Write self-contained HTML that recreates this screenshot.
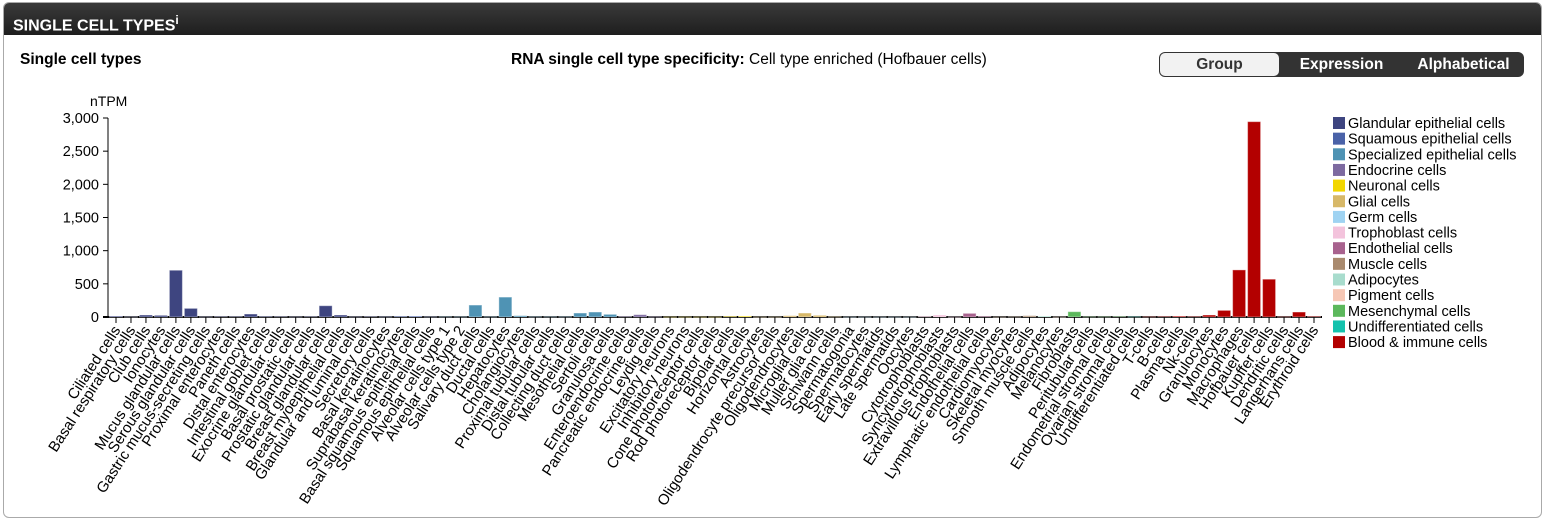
<!DOCTYPE html>
<html><head><meta charset="utf-8"><style>
html,body{margin:0;padding:0;background:#fff;width:1547px;height:523px;overflow:hidden;font-family:"Liberation Sans",sans-serif}
#panel{position:absolute;left:3px;top:2px;width:1537px;height:514px;border:1px solid #aaa;border-radius:6px;overflow:hidden}
#hdr{position:absolute;left:0;top:0;width:100%;height:32px;background:linear-gradient(#3a3a3a,#1e1e1e);color:#fff;font-weight:bold;font-size:16px;line-height:34px;padding-left:9px;box-sizing:border-box}
#hdr sup{font-size:12px}
.t{position:absolute;font-size:15.5px;color:#000}
#btns{position:absolute;left:1159px;top:52px;width:365px;height:25px;background:#333;border-radius:6px}
.b{position:absolute;top:0;height:25px;line-height:25px;font-weight:bold;font-size:15.5px;color:#fff;text-align:center}
svg{position:absolute;left:0;top:0}
</style></head><body>
<div id="panel">
<div id="hdr">SINGLE CELL TYPES<sup>i</sup></div>
</div>
<div class="t" style="left:20px;top:51px;font-weight:bold">Single cell types</div>
<div class="t" style="left:511px;top:51px"><b>RNA single cell type specificity:</b> Cell type enriched (Hofbauer cells)</div>
<div id="btns">
<div class="b" style="left:1px;top:1px;height:23px;line-height:23px;width:119px;background:#f2f2f2;color:#333;border-radius:5px">Group</div>
<div class="b" style="left:125px;width:115px">Expression</div>
<div class="b" style="left:246px;width:117px">Alphabetical</div>
</div>
<svg id="chart" width="1547" height="523"></svg>
<script>
const categories=["Ciliated cells","Basal respiratory cells","Club cells","Ionocytes","Mucus glandular cells","Serous glandular cells","Gastric mucus-secreting cells","Proximal enterocytes","Paneth cells","Distal enterocytes","Intestinal goblet cells","Exocrine glandular cells","Basal prostatic cells","Prostatic glandular cells","Breast glandular cells","Breast myoepithelial cells","Glandular and luminal cells","Secretory cells","Basal keratinocytes","Suprabasal keratinocytes","Basal squamous epithelial cells","Squamous epithelial cells","Alveolar cells type 1","Alveolar cells type 2","Salivary duct cells","Ductal cells","Hepatocytes","Cholangiocytes","Proximal tubular cells","Distal tubular cells","Collecting duct cells","Mesothelial cells","Sertoli cells","Granulosa cells","Enteroendocrine cells","Pancreatic endocrine cells","Leydig cells","Excitatory neurons","Inhibitory neurons","Cone photoreceptor cells","Rod photoreceptor cells","Bipolar cells","Horizontal cells","Astrocytes","Oligodendrocyte precursor cells","Oligodendrocytes","Microglial cells","Muller glia cells","Schwann cells","Spermatogonia","Spermatocytes","Early spermatids","Late spermatids","Oocytes","Cytotrophoblasts","Syncytiotrophoblasts","Extravillous trophoblasts","Endothelial cells","Lymphatic endothelial cells","Cardiomyocytes","Skeletal myocytes","Smooth muscle cells","Adipocytes","Melanocytes","Fibroblasts","Peritubular cells","Endometrial stromal cells","Ovarian stromal cells","Undifferentiated cells","T-cells","B-cells","Plasma cells","Nk-cells","Granulocytes","Monocytes","Macrophages","Hofbauer cells","Kupffer cells","Dendritic cells","Langerhans cells","Erythroid cells"];
const values=[15,5,30,25,705,130,5,8,8,45,10,8,5,8,170,30,5,8,5,12,15,5,5,5,180,5,300,20,5,5,5,60,75,40,8,35,5,3,3,3,3,10,15,3,3,20,60,25,5,3,3,3,3,3,10,30,3,55,10,3,5,20,15,3,80,5,5,8,5,5,8,15,8,30,100,710,2945,570,5,75,10];
const groupIdx=[0,0,0,0,0,0,0,0,0,0,0,0,0,0,0,0,0,0,1,1,1,1,2,2,2,2,2,2,2,2,2,2,2,2,3,3,3,4,4,4,4,4,4,5,5,5,5,5,5,6,6,6,6,6,7,7,7,8,8,9,9,9,10,11,12,12,12,12,13,14,14,14,14,14,14,14,14,14,14,14,14];
const groups=["Glandular epithelial cells","Squamous epithelial cells","Specialized epithelial cells","Endocrine cells","Neuronal cells","Glial cells","Germ cells","Trophoblast cells","Endothelial cells","Muscle cells","Adipocytes","Pigment cells","Mesenchymal cells","Undifferentiated cells","Blood & immune cells"];
const groupColors=["#3e4580","#4a62a8","#4f93b4","#7d6aa0","#f2d600","#d7b868","#9fd3f2","#f3c3dc","#a8628e","#a98a6e","#a8dccd","#f6c7b5","#5cb85c","#14c2ad","#b30000"];
const yTicks=[0,500,1000,1500,2000,2500,3000];
const yTickLabels=["0","500","1,000","1,500","2,000","2,500","3,000"];
const NS="http://www.w3.org/2000/svg",svg=document.getElementById('chart');
const x0=116,step=14.975,y0=317,yTop=118,yMax=3000;
const X=i=>x0+i*step, Y=v=>y0-(v/yMax)*(y0-yTop);
function mk(t,a,p){const e=document.createElementNS(NS,t);for(const k in a)e.setAttribute(k,a[k]);(p||svg).appendChild(e);return e;}
const tx=mk('text',{x:90,y:106,'font-size':14,fill:'#000'});tx.textContent='nTPM';


mk('line',{x1:108,y1:yTop,x2:108,y2:y0,stroke:'#000','stroke-width':1});
mk('line',{x1:103,y1:y0,x2:1322,y2:y0,stroke:'#000','stroke-width':2});
yTicks.forEach((v,k)=>{mk('line',{x1:103,y1:Y(v),x2:108,y2:Y(v),stroke:'#000'});
const t=mk('text',{x:99,y:Y(v)+5,'text-anchor':'end','font-size':14.5,fill:'#000'});t.textContent=yTickLabels[k];

});
categories.forEach((c,i)=>{
 const b=mk('rect',{x:X(i)-6.5,y:Y(values[i]),width:13,height:Math.max(y0-Y(values[i]),0.5),fill:groupColors[groupIdx[i]],stroke:'rgba(255,255,255,0.4)','stroke-width':1});
 
 
 mk('line',{x1:X(i),y1:y0,x2:X(i),y2:y0+6,stroke:'#000'});
 const t=mk('text',{x:X(i)+5,y:y0+13,'text-anchor':'end','font-size':15,fill:'#000',transform:`rotate(-57 ${X(i)+5} ${y0+13})`});t.textContent=c;
 
 
});
groups.forEach((g,k)=>{const y=117+k*15.65;
 const r=mk('rect',{x:1333,y:y,width:12,height:12,fill:groupColors[k]});
 
 
 const t=mk('text',{x:1348,y:y+11,'font-size':14.5,fill:'#000'});t.textContent=g;
 
 });
mk('rect',{x:1521,y:110,width:19,height:130,fill:'#fff'});
</script>
</body></html>
